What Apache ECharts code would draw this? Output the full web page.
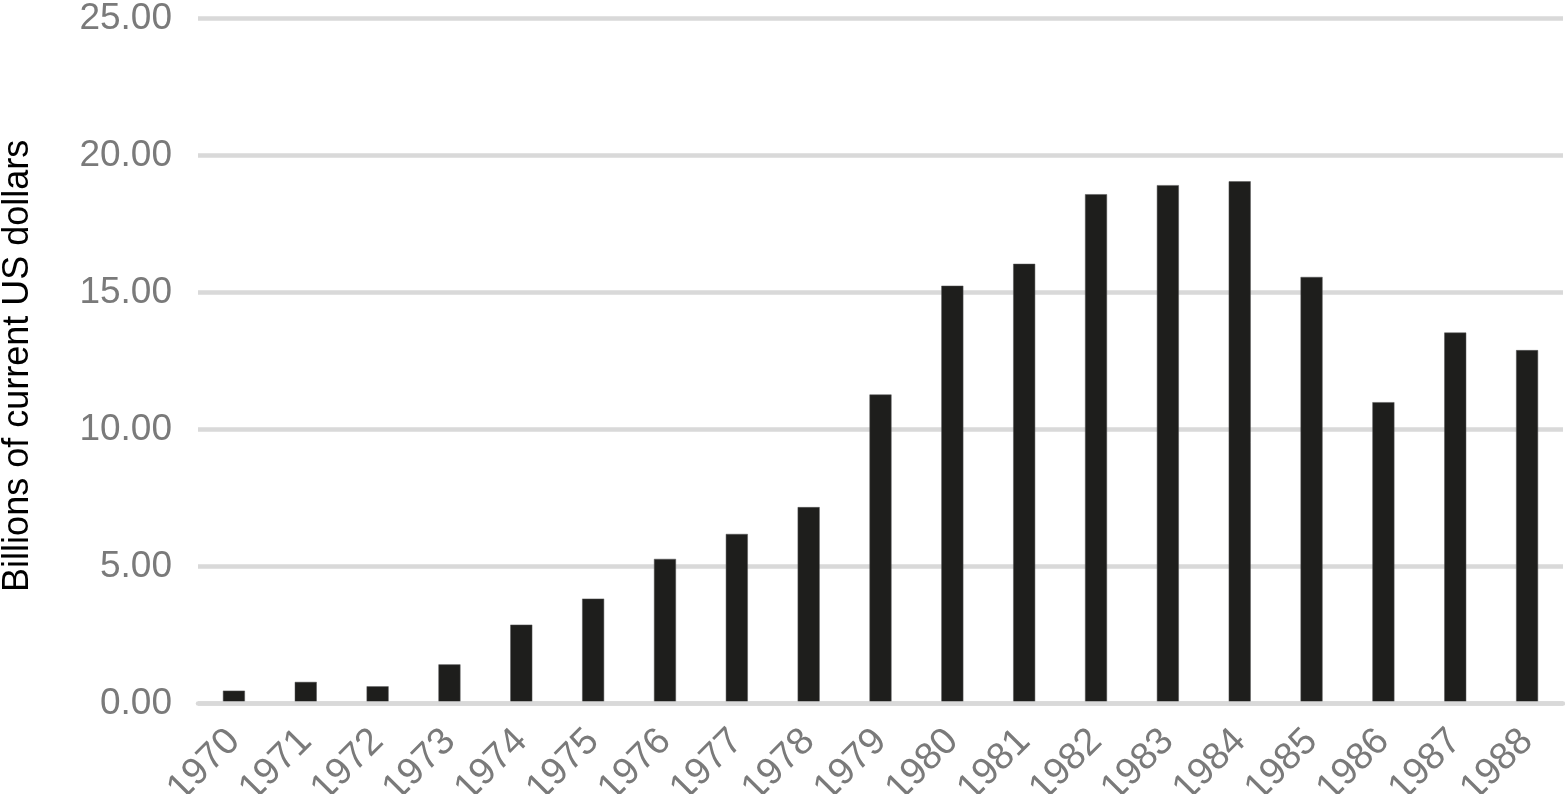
<!DOCTYPE html>
<html>
<head>
<meta charset="utf-8">
<script src="https://cdn.jsdelivr.net/npm/echarts@6/dist/echarts.min.js"></script>
<style>
html,body{margin:0;padding:0;background:#fff;}
#chart{width:1565px;height:794px;}
</style>
</head>
<body>
<div id="chart"></div>
<script>
const years = ['1970','1971','1972','1973','1974','1975','1976','1977','1978','1979','1980','1981','1982','1983','1984','1985','1986','1987','1988'];
const values = [0.46,0.78,0.62,1.42,2.87,3.82,5.27,6.18,7.16,11.27,15.24,16.04,18.58,18.91,19.05,15.56,10.99,13.53,12.89];
const yTitle = 'Billions of current US dollars';
const yMin = 0, yMax = 25, yStep = 5;

const chart = echarts.init(document.getElementById('chart'));
chart.setOption({
  animation: false,
  backgroundColor: '#ffffff',
  grid: { left: 198, right: 2, top: 18.3, bottom: 90.7, containLabel: false, outerBoundsMode: 'none' },
  xAxis: {
    type: 'category',
    data: years,
    z: 5,
    axisLine: { show: true, lineStyle: { color: '#d9d9d9', width: 4.5 } },
    axisTick: { show: false },
    axisLabel: {
      rotate: 45,
      margin: 32,
      color: '#7a7a7a',
      fontSize: 38,
      fontFamily: 'Liberation Sans, Arial, sans-serif',
      interval: 0
    }
  },
  yAxis: {
    type: 'value',
    min: yMin, max: yMax, interval: yStep,
    name: yTitle,
    nameLocation: 'middle',
    nameGap: 162,
    nameTextStyle: { color: '#000000', fontSize: 36, fontFamily: 'Liberation Sans, Arial, sans-serif', padding: [0, 10, 0, 0] },
    axisLine: { show: false },
    axisTick: { show: false },
    splitLine: { show: true, lineStyle: { color: '#d9d9d9', width: 4.5 } },
    axisLabel: {
      margin: 26,
      color: '#7a7a7a',
      fontSize: 37,
      fontFamily: 'Liberation Sans, Arial, sans-serif',
      formatter: v => v.toFixed(2)
    }
  },
  series: [{
    type: 'bar',
    data: values,
    barWidth: 22,
    itemStyle: { color: '#1e1e1c', borderColor: '#555', borderWidth: 0.5 }
  }]
});
</script>
</body>
</html>
